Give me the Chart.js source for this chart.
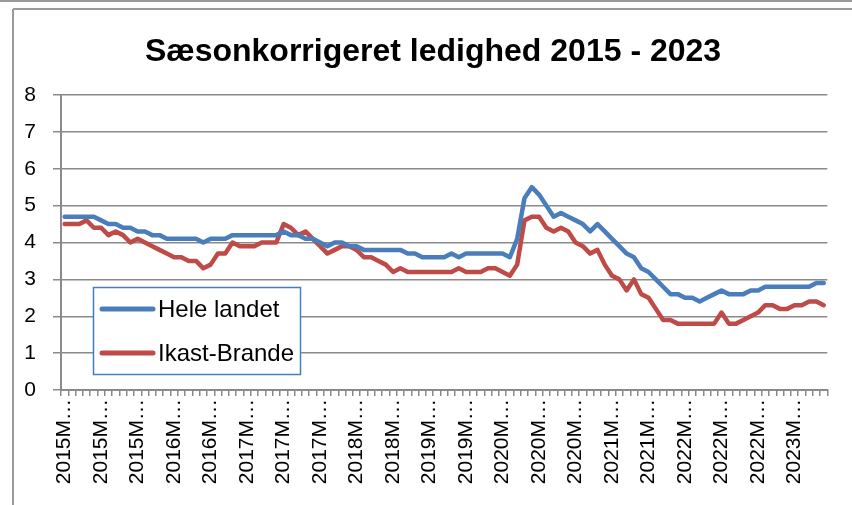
<!DOCTYPE html>
<html>
<head>
<meta charset="utf-8">
<script src="https://cdn.jsdelivr.net/npm/chart.js@4/dist/chart.umd.min.js"></script>
<style>
html,body{margin:0;padding:0;background:#fff;}
#wrap{position:relative;width:852px;height:505px;}
</style>
</head>
<body>
<div id="wrap"><canvas id="c"></canvas></div>
<script>
const title = "Sæsonkorrigeret ledighed 2015 - 2023";
const seriesNames = ["Hele landet", "Ikast-Brande"];
const years = [2015, 2016, 2017, 2018, 2019, 2020, 2021, 2022, 2023];
const lastMonth2023 = 9;
const yTicks = [0, 1, 2, 3, 4, 5, 6, 7, 8];

const heleLandet = [
  4.7,4.7,4.7,4.7,4.7,4.6,4.5,4.5,4.4,4.4,4.3,4.3,
  4.2,4.2,4.1,4.1,4.1,4.1,4.1,4.0,4.1,4.1,4.1,4.2,
  4.2,4.2,4.2,4.2,4.2,4.2,4.3,4.2,4.2,4.1,4.1,4.0,
  3.9,4.0,4.0,3.9,3.9,3.8,3.8,3.8,3.8,3.8,3.8,3.7,
  3.7,3.6,3.6,3.6,3.6,3.7,3.6,3.7,3.7,3.7,3.7,3.7,
  3.7,3.6,4.1,5.2,5.5,5.3,5.0,4.7,4.8,4.7,4.6,4.5,
  4.3,4.5,4.3,4.1,3.9,3.7,3.6,3.3,3.2,3.0,2.8,2.6,
  2.6,2.5,2.5,2.4,2.5,2.6,2.7,2.6,2.6,2.6,2.7,2.7,
  2.8,2.8,2.8,2.8,2.8,2.8,2.8,2.9,2.9
];
const ikastBrande = [
  4.5,4.5,4.5,4.6,4.4,4.4,4.2,4.3,4.2,4.0,4.1,4.0,
  3.9,3.8,3.7,3.6,3.6,3.5,3.5,3.3,3.4,3.7,3.7,4.0,
  3.9,3.9,3.9,4.0,4.0,4.0,4.5,4.4,4.2,4.3,4.1,3.9,
  3.7,3.8,3.9,3.9,3.8,3.6,3.6,3.5,3.4,3.2,3.3,3.2,
  3.2,3.2,3.2,3.2,3.2,3.2,3.3,3.2,3.2,3.2,3.3,3.3,
  3.2,3.1,3.4,4.6,4.7,4.7,4.4,4.3,4.4,4.3,4.0,3.9,
  3.7,3.8,3.4,3.1,3.0,2.7,3.0,2.6,2.5,2.2,1.9,1.9,
  1.8,1.8,1.8,1.8,1.8,1.8,2.1,1.8,1.8,1.9,2.0,2.1,
  2.3,2.3,2.2,2.2,2.3,2.3,2.4,2.4,2.3
];

const categories = [];
years.forEach(y => {
  const n = (y === 2023) ? lastMonth2023 : 12;
  for (let m = 1; m <= n; m++) categories.push(y + "M" + String(m).padStart(2, "0"));
});

const gridColor = "#8a8a8a";
const FONT = "'Liberation Sans', Arial, sans-serif";

const framePlugin = {
  id: "frame",
  beforeDraw(chart) {
    const ctx = chart.ctx;
    ctx.save();
    ctx.fillStyle = "#fff";
    ctx.fillRect(0, 0, chart.width, chart.height);
    ctx.strokeStyle = "#9a9a9a";
    ctx.lineWidth = 2;
    ctx.beginPath();
    ctx.moveTo(0, 1); ctx.lineTo(chart.width, 1);
    ctx.moveTo(13, 9); ctx.lineTo(chart.width, 9);
    ctx.moveTo(13, 9); ctx.lineTo(13, chart.height);
    ctx.stroke();
    ctx.restore();
  }
};

const legendPlugin = {
  id: "boxLegend",
  afterDatasetsDraw(chart) {
    const ctx = chart.ctx;
    const x = 93.5, y = 287.5, w = 207, h = 87;
    ctx.save();
    ctx.fillStyle = "#fff";
    ctx.fillRect(x, y, w, h);
    ctx.strokeStyle = "#4A7EBB";
    ctx.lineWidth = 1.5;
    ctx.strokeRect(x, y, w, h);
    const rows = [309, 353];
    chart.data.datasets.forEach((ds, i) => {
      ctx.strokeStyle = ds.borderColor;
      ctx.lineWidth = 5;
      ctx.lineCap = "round";
      ctx.beginPath();
      ctx.moveTo(102, rows[i]);
      ctx.lineTo(153, rows[i]);
      ctx.stroke();
      ctx.fillStyle = "#000";
      ctx.font = "24px " + FONT;
      ctx.textBaseline = "middle";
      ctx.textAlign = "left";
      ctx.fillText(ds.label, 158, rows[i] + 1);
    });
    ctx.restore();
  }
};

new Chart(document.getElementById("c"), {
  type: "line",
  data: {
    labels: categories,
    datasets: [
      { label: seriesNames[0], data: heleLandet, borderColor: "#4A7EBB", backgroundColor: "#4A7EBB",
        borderWidth: 4.5, pointRadius: 0, tension: 0, borderJoinStyle: "round", borderCapStyle: "round" },
      { label: seriesNames[1], data: ikastBrande, borderColor: "#BE4B48", backgroundColor: "#BE4B48",
        borderWidth: 4.5, pointRadius: 0, tension: 0, borderJoinStyle: "round", borderCapStyle: "round" }
    ]
  },
  options: {
    responsive: true,
    maintainAspectRatio: false,
    animation: false,
    layout: { padding: { left: 14, right: 0, top: 0, bottom: 5 } },
    plugins: {
      legend: { display: false },
      tooltip: { enabled: false },
      title: {
        display: true,
        text: title,
        color: "#000",
        font: { family: FONT, size: 32, weight: "bold" },
        padding: { top: 33, bottom: 23.6 }
      }
    },
    scales: {
      x: {
        type: "category",
        offset: true,
        grid: { display: true, offset: true, drawOnChartArea: false, drawTicks: true, tickLength: 6, color: gridColor, lineWidth: 1.5 },
        border: { display: true, color: gridColor, width: 2 },
        ticks: {
          autoSkip: false, minRotation: 90, maxRotation: 90, padding: 3, color: "#000",
          font: { family: FONT, size: 21 },
          callback: function (v, i) {
            return i % 5 === 0 ? categories[i].slice(0, 5) + "\u2026" : "";
          }
        },
        afterFit(scale) { scale.height = 110; }
      },
      y: {
        min: 0, max: 8,
        afterBuildTicks(scale) { scale.ticks = yTicks.map(v => ({ value: v })); },
        grid: { color: gridColor, lineWidth: 1.5, tickLength: 8 },
        border: { display: true, color: gridColor, width: 2 },
        ticks: { color: "#000", padding: 17, font: { family: FONT, size: 21 } },
        afterFit(scale) { scale.width = 47; }
      },
      spacer: {
        type: "linear",
        position: "right",
        display: true,
        grid: { display: false, drawTicks: false },
        border: { display: false },
        ticks: { display: false },
        afterFit(scale) { scale.width = 20; }
      }
    }
  },
  plugins: [framePlugin, legendPlugin]
});
</script>
</body>
</html>
